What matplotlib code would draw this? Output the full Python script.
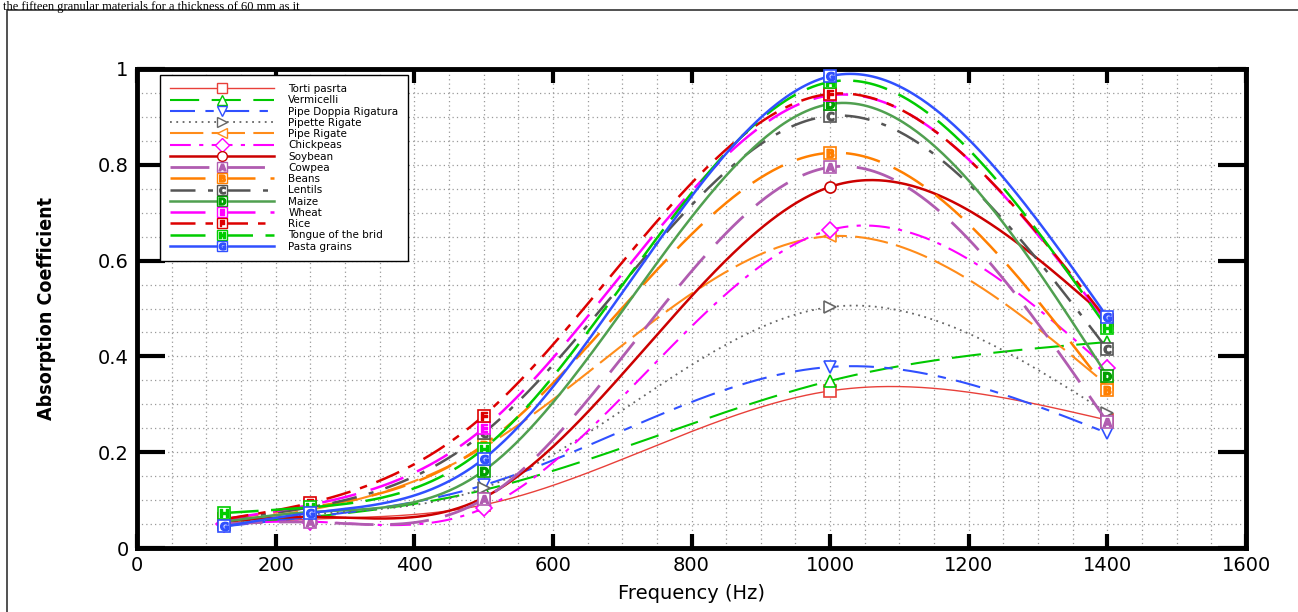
import numpy as np
import matplotlib.pyplot as plt
from matplotlib.patches import Rectangle
from matplotlib.ticker import MultipleLocator, FuncFormatter

# Frecuencias medidas (Hz)
freq = [125, 250, 500, 1000, 1400]

# Coeficientes de absorción
torti = [0.050, 0.060, 0.090, 0.328, 0.267]
vermicelli = [0.050, 0.065, 0.121, 0.349, 0.430]
pipe_doppia = [0.045, 0.065, 0.131, 0.378, 0.240]
pipette = [0.050, 0.070, 0.125, 0.503, 0.282]
pipe_rigate = [0.055, 0.080, 0.210, 0.651, 0.340]
chickpeas = [0.050, 0.055, 0.083, 0.664, 0.375]
soybean = [0.055, 0.065, 0.105, 0.754, 0.480]
cowpea = [0.050, 0.054, 0.102, 0.795, 0.263]
beans = [0.060, 0.085, 0.215, 0.825, 0.330]
lentils = [0.060, 0.085, 0.240, 0.902, 0.415]
maize = [0.055, 0.075, 0.161, 0.927, 0.359]
wheat = [0.060, 0.090, 0.250, 0.945, 0.470]
rice = [0.060, 0.094, 0.276, 0.948, 0.475]
tongue = [0.073, 0.085, 0.207, 0.973, 0.459]
pasta = [0.045, 0.073, 0.186, 0.985, 0.482]

nombres = ['Torti pasrta', 'Vermicelli', 'Pipe Doppia Rigatura', 'Pipette Rigate',
           'Pipe Rigate', 'Chickpeas', 'Soybean', 'Cowpea', 'Beans', 'Lentils',
           'Maize', 'Wheat', 'Rice', 'Tongue of the brid', 'Pasta grains']
series = [torti, vermicelli, pipe_doppia, pipette, pipe_rigate, chickpeas, soybean,
          cowpea, beans, lentils, maize, wheat, rice, tongue, pasta]

# estilo: (color linea, estilo, grosor, marcador, letra, color marcador)
estilos = [
    ('#e8403a', '-', 1.0, 's', None, '#e8403a'),
    ('#00c800', (0, (14, 6)), 1.5, '^', None, '#00c800'),
    ('#3050ff', (0, (12, 5, 4, 5)), 1.5, 'v', None, '#3050ff'),
    ('#666666', (0, (1, 2.5)), 1.3, '>', None, '#666666'),
    ('#ff8c1a', (0, (16, 4)), 1.5, '<', None, '#ff8c1a'),
    ('#ff00ff', (0, (10, 4, 2, 4)), 1.5, 'D', None, '#ff00ff'),
    ('#cc0000', '-', 1.8, 'o', None, '#cc0000'),
    ('#b05cb0', (0, (14, 6)), 2.0, 's', 'A', '#b05cb0'),
    ('#ff7f00', (0, (14, 6)), 1.8, 's', 'B', '#ff7f00'),
    ('#555555', (0, (10, 5, 2, 5)), 1.8, 's', 'C', '#555555'),
    ('#50a050', '-', 1.8, 's', 'D', '#00a000'),
    ('#ff00ff', (0, (14, 6)), 1.8, 's', 'E', '#ff00ff'),
    ('#dd0000', (0, (10, 4, 3, 4)), 1.8, 's', 'F', '#dd0000'),
    ('#00cc00', (0, (14, 5)), 1.8, 's', 'H', '#00cc00'),
    ('#3050ff', '-', 1.8, 's', 'G', '#3050ff'),
]


def spline_natural(x, y, xs):
    """Spline cúbico natural a través de los puntos medidos"""
    x = np.asarray(x, float)
    y = np.asarray(y, float)
    n = len(x)
    h = np.diff(x)
    A = np.zeros((n, n))
    b = np.zeros(n)
    A[0, 0] = 1
    A[-1, -1] = 1
    for i in range(1, n - 1):
        A[i, i - 1] = h[i - 1]
        A[i, i] = 2 * (h[i - 1] + h[i])
        A[i, i + 1] = h[i]
        b[i] = 6 * ((y[i + 1] - y[i]) / h[i] - (y[i] - y[i - 1]) / h[i - 1])
    M = np.linalg.solve(A, b)
    idx = np.clip(np.searchsorted(x, xs) - 1, 0, n - 2)
    xi, xi1, hi = x[idx], x[idx + 1], h[idx]
    return (M[idx] * (xi1 - xs) ** 3 / (6 * hi) + M[idx + 1] * (xs - xi) ** 3 / (6 * hi)
            + (y[idx] / hi - M[idx] * hi / 6) * (xi1 - xs)
            + (y[idx + 1] / hi - M[idx + 1] * hi / 6) * (xs - xi))


fig = plt.figure(figsize=(12.98, 6.12), dpi=100)
ax = fig.add_axes([137 / 1298, 64 / 612, 1109 / 1298, 479 / 612])

xs = np.linspace(freq[0], freq[-1], 400)
handles = []
for k, (y, nombre, est) in enumerate(zip(series, nombres, estilos)):
    color, ls, lw, mk, letra, mcol = est
    ax.plot(xs, spline_natural(freq, y, xs), color=color, linestyle=ls, linewidth=lw,
            zorder=3 + k * 0.1)
    ms = 9 if letra else 8
    h1, = ax.plot(freq, y, linestyle='none', marker=mk, markersize=ms,
                  markerfacecolor='white', markeredgecolor=mcol, markeredgewidth=1.2,
                  zorder=3.05 + k * 0.1)
    hl, = ax.plot([], [], color=color, linestyle=ls, linewidth=lw)
    # versión reducida del marcador para la leyenda
    hm, = ax.plot([], [], linestyle='none', marker=mk, markersize=7,
                  markerfacecolor='white', markeredgecolor=mcol, markeredgewidth=1.0)
    if letra:
        h2, = ax.plot(freq, y, linestyle='none', marker=f'$\\mathbf{{{letra}}}$',
                      markersize=6, color=mcol, zorder=3.06 + k * 0.1)
        hm2, = ax.plot([], [], linestyle='none', marker=f'$\\mathbf{{{letra}}}$',
                       markersize=5, color=mcol)
        handles.append((hl, hm, hm2))
    else:
        handles.append((hl, hm))

ax.set_xlim(0, 1600)
ax.set_ylim(0, 1)
ax.xaxis.set_major_locator(MultipleLocator(200))
ax.xaxis.set_minor_locator(MultipleLocator(50))
ax.yaxis.set_major_locator(MultipleLocator(0.2))
ax.yaxis.set_minor_locator(MultipleLocator(0.05))
ax.yaxis.set_major_formatter(FuncFormatter(lambda v, p: f'{v:g}'))
ax.grid(True, which='both', color='#999999', linestyle=(0, (1, 2.5)), linewidth=0.9)
ax.set_axisbelow(True)

for s in ax.spines.values():
    s.set_linewidth(3.5)
ax.tick_params(axis='both', which='major', direction='in', width=3, labelsize=14,
               top=True, right=True, pad=6)
ax.tick_params(axis='x', which='major', length=10)
ax.tick_params(axis='y', which='major', length=20)
ax.tick_params(axis='both', which='minor', length=0)

ax.set_xlabel('Frequency (Hz)', fontsize=14, labelpad=6)
ax.set_ylabel('Absorption Coefficient', fontsize=14, fontweight='bold',
              family=['DejaVu Sans Condensed', 'Liberation Sans Narrow', 'DejaVu Sans'],
              fontstretch='condensed', labelpad=30)

leg = ax.legend(handles, nombres, loc='upper left', bbox_to_anchor=(0.021, 0.988),
                fontsize=7.5, handlelength=10.0, handletextpad=1.4, labelspacing=0.12,
                borderpad=0.9, fancybox=False, framealpha=1, edgecolor='black',
                borderaxespad=0)
leg.get_frame().set_linewidth(1.0)
leg.set_zorder(10)

# marco exterior y leyenda de la figura original
fig.patches.append(Rectangle((7 / 1298, -0.05), 1.1, (612 - 10) / 612 + 0.05,
                             transform=fig.transFigure, fill=False,
                             edgecolor='#333333', linewidth=1.2))
fig.text(0.002, 1 - 1 / 612, 'the fifteen granular materials for a thickness of 60 mm as it',
         fontsize=9, family='Liberation Serif', va='top', ha='left')

plt.savefig('out.png', dpi=100)
